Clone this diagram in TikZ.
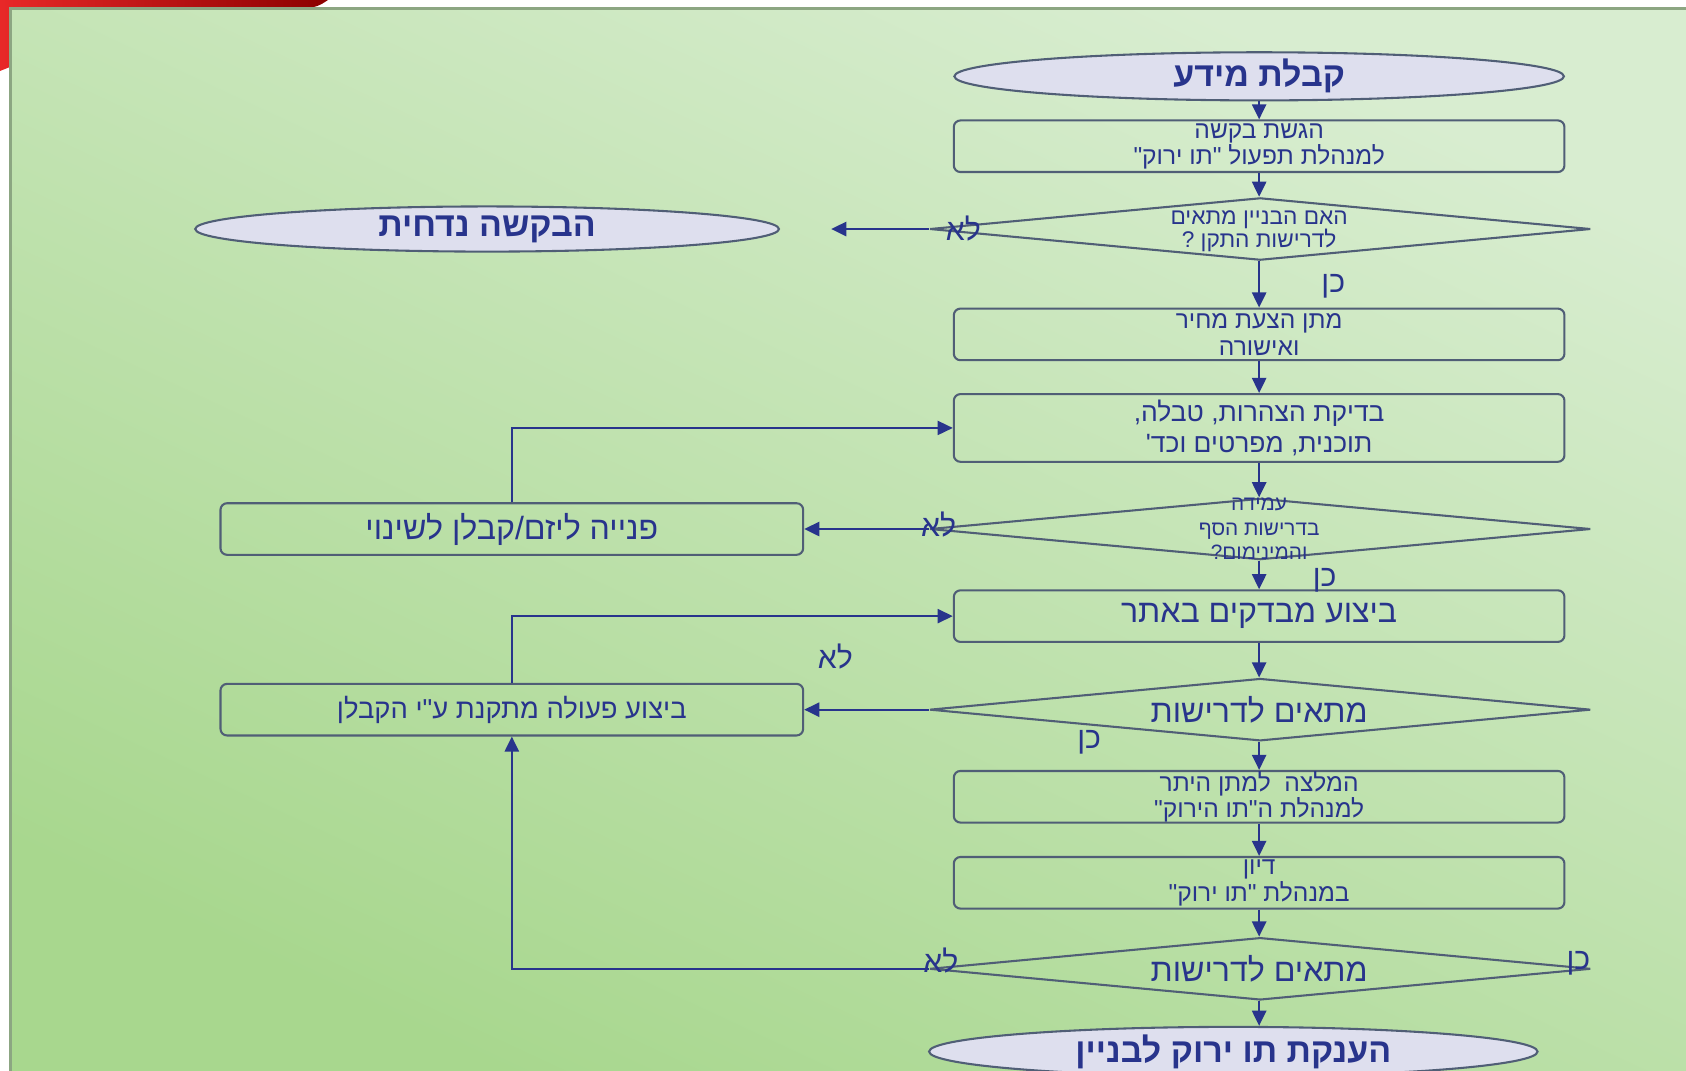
\documentclass[tikz,border=0pt]{standalone}
\usepackage{fontspec}
\usetikzlibrary{shapes.geometric,arrows.meta}
\newfontfamily\hebfont[Script=Hebrew]{Liberation Sans}
\TeXXeTstate=1
\newcommand{\heb}[1]{\beginR #1\endR}
\newcommand{\fsz}[2]{\fontsize{#1}{#2}\selectfont}
\definecolor{navy}{RGB}{40,52,140}
\definecolor{boxline}{RGB}{80,94,118}
\definecolor{ovalfill}{RGB}{222,223,238}
\definecolor{bgtop}{RGB}{216,237,208}
\definecolor{bgbot}{RGB}{168,215,142}
\definecolor{frameline}{RGB}{140,166,130}
\definecolor{redlight}{RGB}{232,40,40}
\definecolor{reddark}{RGB}{140,0,0}
\begin{document}
\begin{tikzpicture}[x=0.02cm, y=-0.02cm,
    box/.style={draw=boxline, line width=1.1pt, rounded corners=3.5pt, minimum width=11.36cm, minimum height=0.96cm, text=navy, align=center, inner sep=0pt, font=\hebfont\fsz{13}{14}},
    sidebox/.style={box, minimum width=10.84cm},
    oval/.style={ellipse, draw=boxline, line width=1.1pt, fill=ovalfill, minimum width=11.34cm, minimum height=0.84cm, inner sep=0pt, text=navy, font=\hebfont\bfseries\fsz{18}{20}},
    dec/.style={diamond, draw=boxline, line width=1.1pt, minimum width=12.3cm, minimum height=1.16cm, inner sep=0pt},
    dectext/.style={text=navy, align=center, inner sep=0pt, font=\hebfont\fsz{12}{12.5}},
    link/.style={draw=navy, line width=1.1pt, -{Triangle[length=8pt,width=7.5pt]}},
    ans/.style={text=navy, inner sep=0pt, font=\hebfont\fsz{16}{16}}]
    \useasboundingbox (0,0) rectangle (1568,996);
    \fill[white] (0,0) rectangle (1568,996);
    \shade[top color=bgtop, bottom color=bgbot, shading angle=-25] (10,8) rectangle (1568,996);
    \shade[left color=redlight, right color=reddark] (0,0) -- (305,0) .. controls (296,6) .. (282,8) -- (10,8) -- (10,62) .. controls (5,64) .. (0,66) -- cycle;
    \draw[frameline, line width=1.4pt] (10,996) -- (10,8) -- (1568,8);

    \node[oval] (start) at (1171,71) {\heb{קבלת מידע}};
    \node[box] (req) at (1171,136) {\heb{הגשת בקשה}\\\heb{למנהלת תפעול "תו ירוק"}};
    \node[dec] (q1) at (1172,213) {};
    \node[dectext] (q1t) at (1171,215) {\heb{האם הבניין מתאים}\\\heb{לדרישות התקן ?}};
    \node[oval, minimum width=10.86cm] (reject) at (453,213) {\heb{הבקשה נדחית}};
    \coordinate (rejend) at (773,213);
    \node[box] (offer) at (1171,311) {\heb{מתן הצעת מחיר}\\\heb{ואישורה}};
    \node[box, minimum height=1.26cm, font=\hebfont\fsz{14}{16}] (docs) at (1171,398) {\heb{בדיקת הצהרות, טבלה,}\\\heb{תוכנית, מפרטים וכד'}};
    \node[dec, minimum height=1.14cm] (q2) at (1172,492) {};
    \node[dectext, font=\hebfont\fsz{11}{13}] (q2t) at (1171,492) {\heb{עמידה}\\\heb{בדרישות הסף}\\\heb{והמינימום?}};
    \node[sidebox, font=\hebfont\fsz{17}{19}] (fixdocs) at (476,492) {\heb{פנייה ליזם/קבלן לשינוי}};
    \node[box, font=\hebfont\fsz{17}{19}] (audit) at (1171,573) {\heb{ביצוע מבדקים באתר}};
    \node[dec] (q3) at (1172,660) {};
    \node[dectext, font=\hebfont\fsz{17}{19}] (q3t) at (1171,660) {\heb{מתאים לדרישות}};
    \node[sidebox, font=\hebfont\fsz{14.5}{16}] (fixsite) at (476,660) {\heb{ביצוע פעולה מתקנת ע"י הקבלן}};
    \node[box] (recom) at (1171,741) {\heb{המלצה~~למתן היתר}\\\heb{למנהלת ה"תו הירוק"}};
    \node[box] (talk) at (1171,821) {\heb{דיון}\\\heb{במנהלת "תו ירוק"}};
    \node[dec] (q4) at (1172,901) {};
    \node[dectext, font=\hebfont\fsz{17}{19}] (q4t) at (1171,901) {\heb{מתאים לדרישות}};
    \node[oval, minimum width=11.32cm, minimum height=0.92cm] (grant) at (1147,978) {\heb{הענקת תו ירוק לבניין}};

    \draw[link] (start) -- (req);
    \draw[link] (req) -- (req.south |- q1.north);
    \draw[link] (q1.west) -- (rejend);
    \draw[link] (q1.south -| offer) -- (offer);
    \draw[link] (offer) -- (docs);
    \draw[link] (docs) -- (docs.south |- q2.north);
    \draw[link] (q2) -- (fixdocs);
    \draw[link, line width=0.8pt] (fixdocs) |- (docs);
    \draw[link] (q2.south -| audit) -- (audit);
    \draw[link] (audit) -- (audit.south |- q3.north);
    \draw[link] (q3) -- (fixsite);
    \draw[link, line width=0.8pt] (fixsite) |- (audit);
    \draw[link] (q3.south -| recom) -- (recom);
    \draw[link] (recom) -- (talk);
    \draw[link] (talk) -- (talk.south |- q4.north);
    \draw[link] (q4) -| (fixsite);
    \draw[link] (q4.south -| talk) -- (talk.south |- grant.north);

    \node[ans] (no1) at (896,213) {\heb{לא}};
    \node[ans] (yes1) at (1240,266) {\heb{כן}};
    \node[ans] (no2) at (873,488) {\heb{לא}};
    \node[ans] (yes2) at (1232,540) {\heb{כן}};
    \node[ans] (no3) at (777,611) {\heb{לא}};
    \node[ans] (yes3) at (1013,690) {\heb{כן}};
    \node[ans] (no4) at (875,893) {\heb{לא}};
    \node[ans] (yes4) at (1468,896) {\heb{כן}};
\end{tikzpicture}
\end{document}
